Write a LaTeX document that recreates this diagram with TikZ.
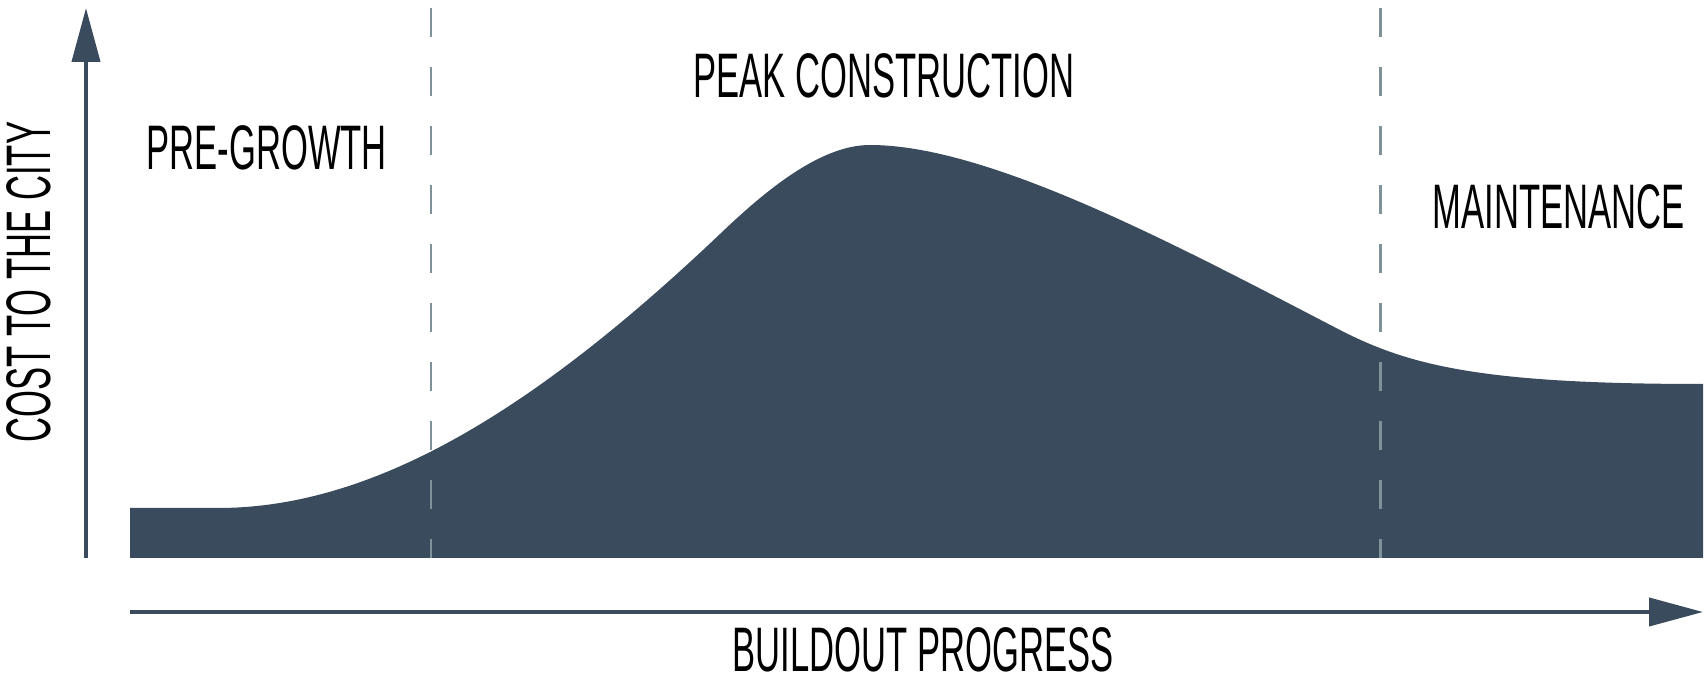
\documentclass[tikz,border=0pt]{standalone}
\usepackage{fontspec}
\setmainfont{Liberation Sans}[FakeStretch=0.55]
\usetikzlibrary{arrows.meta}
\definecolor{pizarra}{RGB}{57,75,92}
\definecolor{divisor}{RGB}{127,145,153}

\begin{document}
\begin{tikzpicture}[
  eje/.style={pizarra, line width=1.15pt, -{Triangle[length=5.4mm,width=2.8mm]}},
  fase/.style={divisor, line width=0.85pt, dash pattern=on 0.29cm off 0.30cm},
  etiqueta/.style={inner sep=0pt, anchor=base west, font=\fontsize{17.9}{20}\selectfont}
]
\useasboundingbox (0,0) rectangle (17.08,6.84);

% Curva de costo
\fill[pizarra] (1.30,1.26) -- (1.30,1.76) -- (2.18,1.76)
  .. controls (3.78,1.76) and (5.40,2.79) .. (7.20,4.50)
  .. controls (7.65,4.93) and (8.20,5.39) .. (8.70,5.39)
  .. controls (9.90,5.39) and (11.80,4.37) .. (13.40,3.54)
  .. controls (14.10,3.18) and (14.83,3.00) .. (17.03,3.00)
  -- (17.03,1.26) -- cycle;

% Ejes
\coordinate (yabajo) at (0.86,1.26);
\coordinate (yarriba) at (0.86,6.76);
\coordinate (xizq) at (1.30,0.72);
\coordinate (xder) at (17.03,0.72);
\draw[eje] (yabajo) -- (yarriba);
\draw[eje] (xizq) -- (xder);

% Divisiones entre fases
\coordinate (d1arriba) at (4.31,6.76);
\coordinate (d1abajo) at (4.31,1.26);
\coordinate (d2arriba) at (13.80,6.76);
\coordinate (d2abajo) at (13.80,1.26);
\draw[fase] (d1arriba) -- (d1abajo);
\draw[fase] (d2arriba) -- (d2abajo);

% Etiquetas
\node[etiqueta] (pre) at (1.46,5.14) {PRE-GROWTH};
\node[etiqueta] (pico) at (6.93,5.86) {PEAK CONSTRUCTION};
\node[etiqueta] (mant) at (14.32,4.55) {MAINTENANCE};
\node[etiqueta] (avance) at (7.32,0.12) {BUILDOUT PROGRESS};
\node[etiqueta, rotate=90] (costo) at (0.50,2.41) {COST TO THE CITY};
\end{tikzpicture}
\end{document}
